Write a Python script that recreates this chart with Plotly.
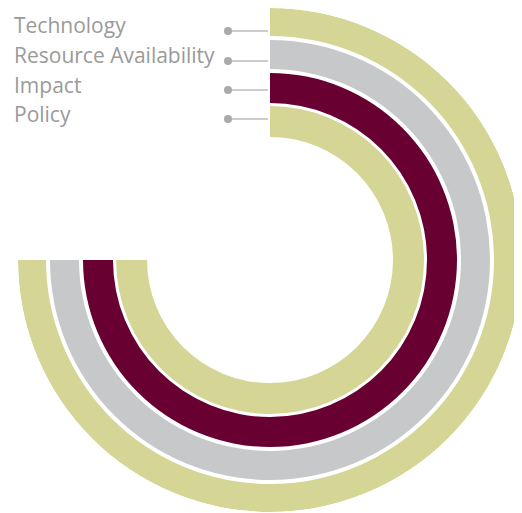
import plotly.graph_objects as go

W, H = 514, 505
OFF = 8  # page body margin

categories = ["Technology", "Resource Availability", "Impact", "Policy"]
values = [75, 75, 75, 75]          # percent of full circle
max_value = 100

colors = ["#D5D596", "#C7C8CA", "#690032", "#D5D596"]

# layout (screen pixels)
cx, cy, R = 270, 260, 252
ring_outer = [252, 220, 187, 154]
ring_w = [28, 29, 30, 31]

def px(x):
    return (x - OFF) / W

def py(y):
    return 1 - (y - OFF) / H

fig = go.Figure()
theta_w = [v / max_value * 360 for v in values]
fig.add_trace(go.Barpolar(
    r=ring_w,
    base=[o - w for o, w in zip(ring_outer, ring_w)],
    theta=[t / 2 for t in theta_w],
    width=theta_w,
    marker=dict(color=colors, line=dict(width=0)),
    hoverinfo="skip",
))

fig.update_layout(
    width=W, height=H,
    margin=dict(l=0, r=0, t=0, b=0),
    paper_bgcolor="white",
    plot_bgcolor="white",
    showlegend=False,
    polar=dict(
        domain=dict(x=[px(cx - R), min(1, px(cx + R))], y=[max(0, py(cy + R)), py(cy - R)]),
        bgcolor="white",
        hole=0,
        bargap=0,
        radialaxis=dict(visible=False, range=[0, R]),
        angularaxis=dict(visible=False, direction="clockwise", rotation=90),
    ),
)

label_y = [25, 55, 85, 114]
dot_y = [31, 61, 90, 119]
shapes = []
annotations = []
for name, ly, dy in zip(categories, label_y, dot_y):
    annotations.append(dict(
        x=px(12), y=py(ly), xref="paper", yref="paper",
        text=name, showarrow=False, xanchor="left", yanchor="middle",
        font=dict(family="Open Sans", size=21, color="#9A9A9A"),
    ))
    shapes.append(dict(type="line", xref="paper", yref="paper",
                       x0=px(228), x1=px(268), y0=py(dy), y1=py(dy),
                       line=dict(color="#CCCCCC", width=2)))
    shapes.append(dict(type="circle", xref="paper", yref="paper",
                       x0=px(224), x1=px(232), y0=py(dy - 4), y1=py(dy + 4),
                       fillcolor="#AAAAAA", line=dict(width=0)))

fig.update_layout(shapes=shapes, annotations=annotations)
fig.write_html("out.html")
